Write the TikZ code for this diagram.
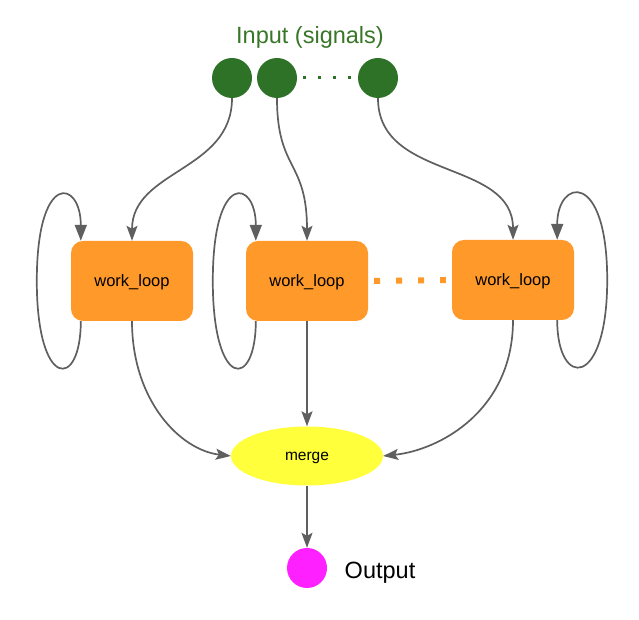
\documentclass[tikz,border=0pt]{standalone}
\usepackage{fontspec}
\setmainfont{Liberation Sans}
\usetikzlibrary{arrows.meta,shapes.geometric,calc}
\definecolor{sigGreen}{RGB}{45,114,38}
\definecolor{txtGreen}{RGB}{56,118,40}
\definecolor{wlOrange}{RGB}{255,153,41}
\definecolor{mgYellow}{RGB}{255,255,60}
\definecolor{outMagenta}{RGB}{255,32,255}
\definecolor{edgeGray}{RGB}{95,95,95}
\tikzset{
  signal/.style={circle, fill=sigGreen, minimum size=40pt, inner sep=0pt},
  wlbox/.style={rectangle, rounded corners=12pt, fill=wlOrange, minimum width=122pt, minimum height=80pt, text depth=0pt, font=\fontsize{16.5}{18}\selectfont},
  edge/.style={draw=edgeGray, line width=1.7pt, -{Stealth[length=15pt,width=11pt,inset=3pt]}},
  loopedge/.style={draw=edgeGray, line width=1.7pt, -{Triangle[length=16pt,width=12pt]}}
}
\def\workloop(#1,#2,#3){
  \node[wlbox] (#1) at (#2,#3) {work\_loop};
}
\begin{document}
\begin{tikzpicture}[x=1pt,y=1pt]
\useasboundingbox (0,0) rectangle (639,620);
\node[text=txtGreen, font=\fontsize{23.5}{26}\selectfont] (title) at (310,583) {Input (signals)};
\node[signal] (in1) at (232,542) {};
\node[signal] (in2) at (277,542) {};
\node[signal] (in3) at (378,542) {};
\draw[sigGreen, line width=3pt, dash pattern=on 3pt off 12pt] ([xshift=6pt]in2.east) -- ([xshift=-6pt]in3.west);
\workloop(wl1,132,339)
\workloop(wl2,307,339)
\workloop(wl3,513,340)
\draw[wlOrange, line width=6pt, dash pattern=on 6pt off 16pt] ([xshift=6pt]wl2.east) -- ([xshift=-6pt]wl3.west);
\node[ellipse, fill=mgYellow, minimum width=152pt, minimum height=59pt, text depth=0pt, font=\fontsize{15.5}{17}\selectfont] (merge) at (307,164) {merge};
\node[circle, fill=outMagenta, minimum size=40pt, inner sep=0pt] (out) at (307,52) {};
\node[anchor=west, text depth=0pt, font=\fontsize{23.5}{26}\selectfont] (outlbl) at ([xshift=14pt,yshift=-2pt]out.east) {Output};
\draw[edge] (in1.south) .. controls +(0,-73) and +(0,71) .. (wl1.north);
\draw[edge] (in2.south) .. controls +(0,-73) and +(0,81) .. (wl2.north);
\draw[edge] (in3.south) .. controls +(0,-83) and +(0,81) .. (wl3.north);
\draw[loopedge] ([xshift=10pt]wl1.south west) .. controls +(0,-69) and +(0,-109) .. ([xshift=-34pt]wl1.west) .. controls +(0,111) and +(0,61) .. ([xshift=10pt]wl1.north west);
\draw[loopedge] ([xshift=10pt]wl2.south west) .. controls +(0,-69) and +(0,-109) .. ([xshift=-33pt]wl2.west) .. controls +(0,111) and +(0,61) .. ([xshift=10pt]wl2.north west);
\draw[loopedge] ([xshift=-17pt]wl3.south east) .. controls +(0,-69) and +(0,-109) .. ([xshift=33pt]wl3.east) .. controls +(0,111) and +(0,61) .. ([xshift=-17pt]wl3.north east);
\draw[edge] (wl1.south) .. controls +(0,-79) and +(-51,6) .. (merge.west);
\draw[edge] (wl2.south) -- (merge.north);
\draw[edge] (wl3.south) .. controls +(0,-90) and +(57,6) .. (merge.east);
\draw[edge] (merge.south) -- (out.north);
\end{tikzpicture}
\end{document}
